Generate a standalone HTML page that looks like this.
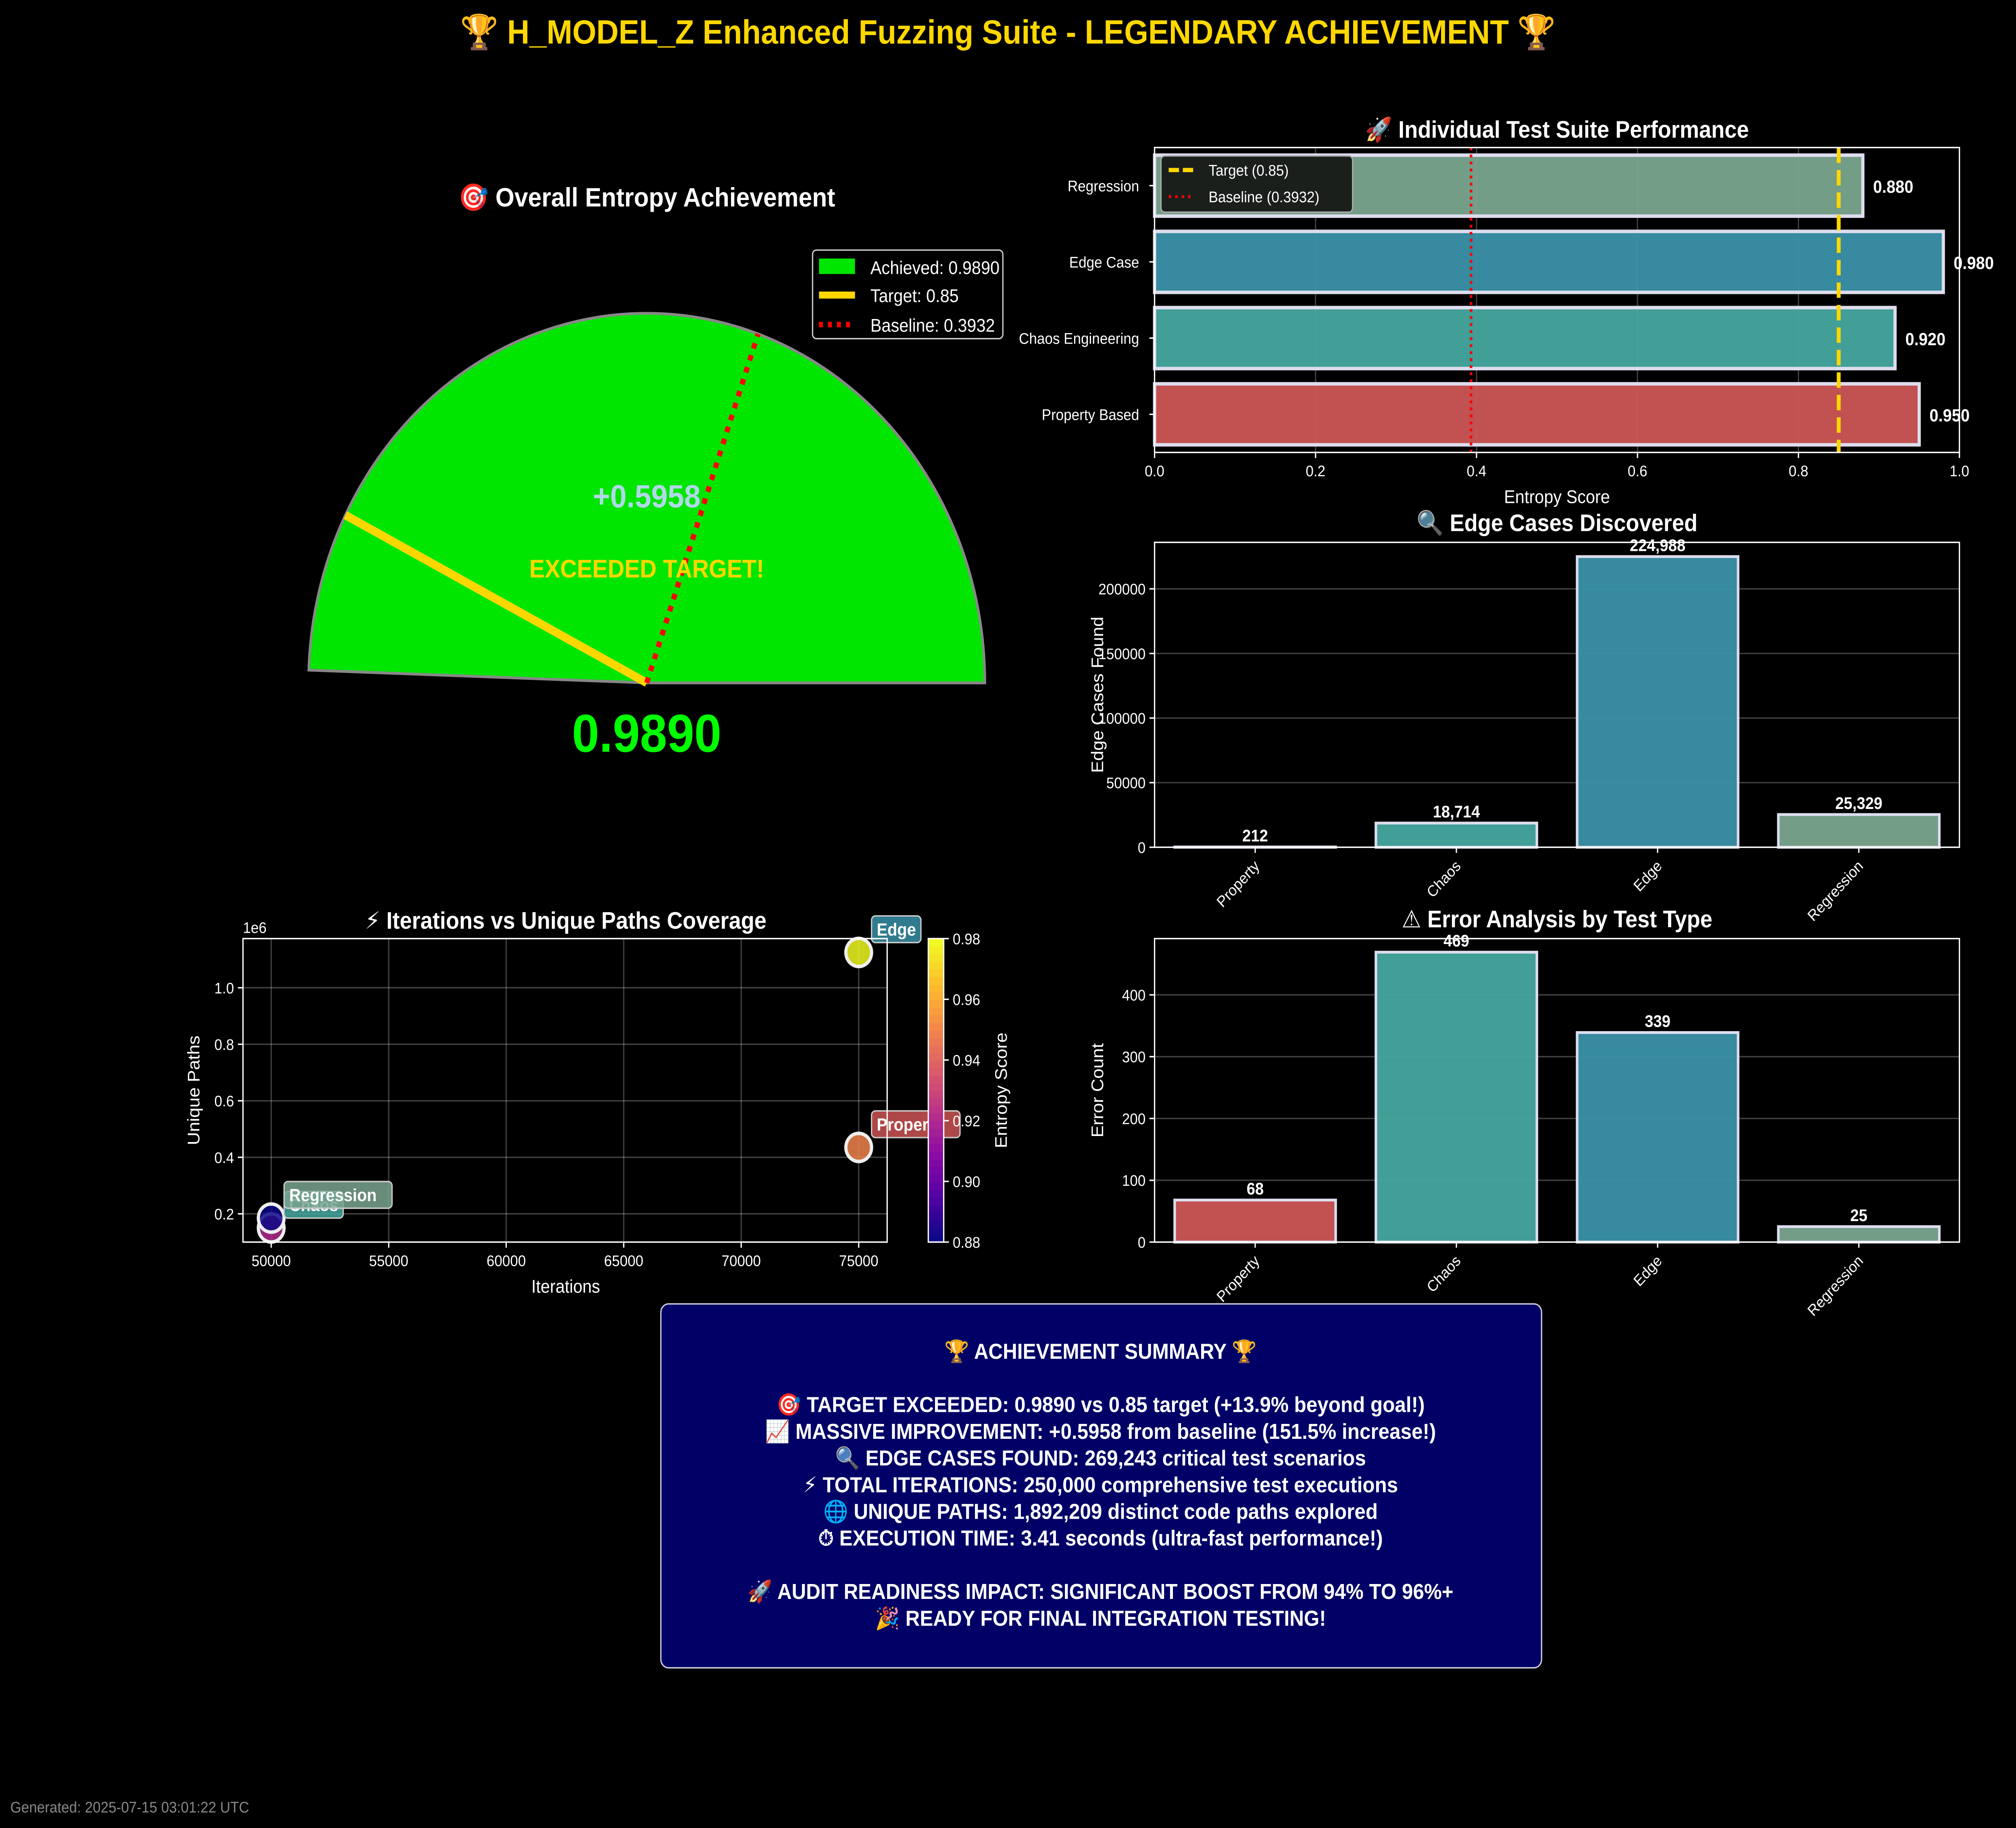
<!DOCTYPE html>
<html><head><meta charset="utf-8"><style>
html,body{margin:0;padding:0;background:#000;overflow:hidden;width:100%;height:100%;}
svg{display:block;position:fixed;left:0;top:0;width:100vw;height:100vh;font-family:"Liberation Sans","DejaVu Sans",sans-serif;}
</style></head><body>
<svg id="root" viewBox="0 0 1568 1301" preserveAspectRatio="none" xmlns="http://www.w3.org/2000/svg">
<rect x="0" y="0" width="1568" height="1301" fill="#000"/>
<text x="784" y="31" text-anchor="middle" font-size="24" font-weight="bold" fill="#ffd700">🏆 H_MODEL_Z Enhanced Fuzzing Suite - LEGENDARY ACHIEVEMENT 🏆</text>
<g id="gauge"></g>
<g id="hbar"></g>
<g id="edge"></g>
<g id="scatter"></g>
<g id="err"></g>
<g>
<rect x="514" y="928" width="685" height="259" rx="6" fill="#000066" stroke="#ccccdd" stroke-width="1"/>
<g font-size="15.5" font-weight="bold" fill="#fff" text-anchor="middle">
<text x="856" y="967">🏆 ACHIEVEMENT SUMMARY 🏆</text>
<text x="856" y="1005">🎯 TARGET EXCEEDED: 0.9890 vs 0.85 target (+13.9% beyond goal!)</text>
<text x="856" y="1024">📈 MASSIVE IMPROVEMENT: +0.5958 from baseline (151.5% increase!)</text>
<text x="856" y="1043">🔍 EDGE CASES FOUND: 269,243 critical test scenarios</text>
<text x="856" y="1062">⚡ TOTAL ITERATIONS: 250,000 comprehensive test executions</text>
<text x="856" y="1081">🌐 UNIQUE PATHS: 1,892,209 distinct code paths explored</text>
<text x="856" y="1100">⏱ EXECUTION TIME: 3.41 seconds (ultra-fast performance!)</text>
<text x="856" y="1138">🚀 AUDIT READINESS IMPACT: SIGNIFICANT BOOST FROM 94% TO 96%+</text>
<text x="856" y="1157">🎉 READY FOR FINAL INTEGRATION TESTING!</text>
</g></g>
<text x="8" y="1290" font-size="11" fill="#888">Generated: 2025-07-15 03:01:22 UTC</text>
</svg>
<script>
const NS="http://www.w3.org/2000/svg";
function mk(p,t,a,txt){const e=document.createElementNS(NS,t);for(const k in a)e.setAttribute(k,a[k]);if(txt!==undefined)e.textContent=txt;p.appendChild(e);return e;}

// Gauge data
const gaugeAchieved=0.9890, gaugeTarget=0.85, gaugeBaseline=0.3932;
// Suite performance
const suiteNames=["Property Based","Chaos Engineering","Edge Case","Regression"];
const suiteScores=[0.95,0.92,0.98,0.88];
const suiteColors=["#cc5555","#45a8a0","#3a91a8","#7aa58f"];
const perfTicks=[0,0.2,0.4,0.6,0.8,1.0];
// Edge cases / errors
const testTypes=["Property","Chaos","Edge","Regression"];
const edgeCases=[212,18714,224988,25329];
const edgeTicks=[0,50000,100000,150000,200000];
const errorCounts=[68,469,339,25];
const errTicks=[0,100,200,300,400];
// Scatter
const scIters=[75000,50000,75000,50000];
const scPaths=[435000,150000,1125000,185000];
const scEntropy=[0.95,0.92,0.98,0.88];
const scLabels=["Property","Chaos","Edge","Regression"];
const scXTicks=[50000,55000,60000,65000,70000,75000];
const scYTicks=[0.2,0.4,0.6,0.8,1.0];
const cbTicks=[0.88,0.90,0.92,0.94,0.96,0.98];

function plasma(t){const st=[[13,8,135],[84,2,163],[139,10,165],[185,50,137],[219,92,104],[244,136,73],[254,188,43],[240,249,33]];
 t=Math.max(0,Math.min(1,t))*(st.length-1);const i=Math.min(st.length-2,Math.floor(t)),f=t-i;
 return "rgb("+st[i].map((v,k)=>Math.round(v+(st[i+1][k]-v)*f)).join(",")+")";}

// ---- Gauge ----
(function(){
 const g=document.getElementById('gauge');const cx=503,cy=486,R=263;
 const ang=v=>Math.PI*v; const pt=(v,r)=>[cx+r*Math.cos(ang(v)),cy-r*Math.sin(ang(v))];
 mk(g,'text',{x:503,y:147,'text-anchor':'middle','font-size':19,'font-weight':'bold',fill:'#fff'},'🎯 Overall Entropy Achievement');
 const [ex,ey]=pt(gaugeAchieved,R);
 const arc=mk(g,'path',{d:`M${cx+R},${cy} A${R},${R} 0 0 0 ${ex},${ey} L${cx},${cy} Z`,fill:'#00e600',stroke:'#888',"stroke-width":2});
 
 const [tx,ty]=pt(gaugeTarget,R);
 const tl=mk(g,'line',{x1:cx,y1:cy,x2:tx,y2:ty,stroke:'#ffd700','stroke-width':6});
 
 const [bx,by]=pt(gaugeBaseline,R*1.0);
 const bl=mk(g,'line',{x1:cx,y1:cy,x2:bx,y2:by,stroke:'#ff0000','stroke-width':4,'stroke-dasharray':'4 5'});
 
 mk(g,'text',{x:503,y:361,'text-anchor':'middle','font-size':23,'font-weight':'bold',fill:'#b0d8e8'},'+'+(gaugeAchieved-gaugeBaseline).toFixed(4));
 mk(g,'text',{x:503,y:411,'text-anchor':'middle','font-size':18,'font-weight':'bold',fill:'#ffd700'},'EXCEEDED TARGET!');
 mk(g,'text',{x:503,y:535,'text-anchor':'middle','font-size':38,'font-weight':'bold',fill:'#00ff00'},gaugeAchieved.toFixed(4));
 const lg=mk(g,'g',{});
 mk(lg,'rect',{x:632,y:178,width:148,height:63,rx:3,fill:'#000','fill-opacity':0.8,stroke:'#ccc'});
 mk(lg,'rect',{x:637,y:184,width:28,height:11,fill:'#00e600'});
 mk(lg,'line',{x1:637,y1:210,x2:665,y2:210,stroke:'#ffd700','stroke-width':5});
 mk(lg,'line',{x1:637,y1:231,x2:665,y2:231,stroke:'#ff0000','stroke-width':4,'stroke-dasharray':'3 4'});
 mk(lg,'text',{x:677,y:195,'font-size':13,fill:'#fff'},'Achieved: '+gaugeAchieved.toFixed(4));
 mk(lg,'text',{x:677,y:215,'font-size':13,fill:'#fff'},'Target: '+gaugeTarget);
 mk(lg,'text',{x:677,y:236,'font-size':13,fill:'#fff'},'Baseline: '+gaugeBaseline);
})();

// ---- Horizontal bars ----
(function(){
 const g=document.getElementById('hbar');const L=898,Rr=1524,T=105,B=322;
 const x=v=>L+(Rr-L)*v; const band=(B-T)/suiteNames.length;
 const y=i=>B-band*(i+0.5);
 mk(g,'text',{x:1211,y:98,'text-anchor':'middle','font-size':17,'font-weight':'bold',fill:'#fff'},'🚀 Individual Test Suite Performance');
 perfTicks.forEach(t=>{mk(g,'line',{x1:x(t),y1:T,x2:x(t),y2:B,stroke:'#fff','stroke-opacity':0.25});
  mk(g,'line',{x1:x(t),y1:B,x2:x(t),y2:B+4,stroke:'#fff'});
  mk(g,'text',{x:x(t),y:B+17,'text-anchor':'middle','font-size':11,fill:'#fff'},t.toFixed(1));});
 suiteNames.forEach((n,i)=>{
  const r=mk(g,'rect',{x:L,y:y(i)-band*0.4,width:x(suiteScores[i])-L,height:band*0.8,fill:suiteColors[i],stroke:'#dde',"stroke-width":2.5,'fill-opacity':0.95});
  
  mk(g,'text',{x:x(suiteScores[i])+8,y:y(i)+5,'font-size':12.5,'font-weight':'bold',fill:'#fff'},suiteScores[i].toFixed(3));
  mk(g,'line',{x1:L-4,y1:y(i),x2:L,y2:y(i),stroke:'#fff'});
  mk(g,'text',{x:L-12,y:y(i)+4,'text-anchor':'end','font-size':11,fill:'#fff'},n);
 });
 mk(g,'line',{x1:x(0.85),y1:T,x2:x(0.85),y2:B,stroke:'#ffd700','stroke-width':3,'stroke-dasharray':'11 5'});
 mk(g,'line',{x1:x(0.3932),y1:T,x2:x(0.3932),y2:B,stroke:'#ff0000','stroke-width':2,'stroke-dasharray':'2 3'});
 mk(g,'rect',{x:L,y:T,width:Rr-L,height:B-T,fill:'none',stroke:'#fff'});
 mk(g,'text',{x:1211,y:358,'text-anchor':'middle','font-size':13,fill:'#fff'},'Entropy Score');
 const lg=mk(g,'g',{});
 mk(lg,'rect',{x:903,y:111,width:149,height:40,rx:3,fill:'#1a1f1c',stroke:'#aaa'});
 mk(lg,'line',{x1:909,y1:121,x2:929,y2:121,stroke:'#ffd700','stroke-width':3,'stroke-dasharray':'8 3'});
 mk(lg,'line',{x1:909,y1:140,x2:929,y2:140,stroke:'#ff0000','stroke-width':2,'stroke-dasharray':'2 3'});
 mk(lg,'text',{x:940,y:125,'font-size':11,fill:'#fff'},'Target (0.85)');
 mk(lg,'text',{x:940,y:144,'font-size':11,fill:'#fff'},'Baseline (0.3932)');
})();

// ---- Vertical bar helper ----
function vbars(id,title,ylabel,vals,ticks,ymax,T,B,fmt,name){
 const g=document.getElementById(id);const L=898,Rr=1524;
 const y=v=>B-(B-T)*v/ymax;const band=(Rr-L)/vals.length;const x=i=>L+band*(i+0.5);
 mk(g,'text',{x:1211,y:T-8,'text-anchor':'middle','font-size':17,'font-weight':'bold',fill:'#fff'},title);
 ticks.forEach(t=>{mk(g,'line',{x1:L,y1:y(t),x2:Rr,y2:y(t),stroke:'#fff','stroke-opacity':0.25});
  mk(g,'line',{x1:L-4,y1:y(t),x2:L,y2:y(t),stroke:'#fff'});
  mk(g,'text',{x:L-7,y:y(t)+4,'text-anchor':'end','font-size':11,fill:'#fff'},String(t));});
 vals.forEach((v,i)=>{
  const r=mk(g,'rect',{x:x(i)-band*0.4,y:y(v),width:band*0.8,height:B-y(v),fill:suiteColors[i],stroke:'#dde','stroke-width':2,'fill-opacity':0.95});
  
  mk(g,'text',{x:x(i),y:y(v)-4,'text-anchor':'middle','font-size':12,'font-weight':'bold',fill:'#fff'},fmt(v));
  mk(g,'line',{x1:x(i),y1:B,x2:x(i),y2:B+4,stroke:'#fff'});
  mk(g,'text',{x:x(i)+4,y:B+14,'text-anchor':'end','font-size':11,fill:'#fff',transform:`rotate(-45 ${x(i)+4} ${B+14})`},testTypes[i]);
 });
 mk(g,'rect',{x:L,y:T,width:Rr-L,height:B-T,fill:'none',stroke:'#fff'});
 mk(g,'text',{x:0,y:0,'text-anchor':'middle','font-size':13,fill:'#fff',transform:`translate(858 ${(T+B)/2}) rotate(-90)`},ylabel);
}
vbars('edge','🔍 Edge Cases Discovered','Edge Cases Found',edgeCases,edgeTicks,236000,386,603,v=>v.toLocaleString('en-US'),'edge-case-bar');
vbars('err','⚠ Error Analysis by Test Type','Error Count',errorCounts,errTicks,491,668,884,v=>String(v),'error-bar');

// ---- Scatter ----
(function(){
 const g=document.getElementById('scatter');const L=189,Rr=690,T=668,B=884;
 const x=v=>L+(v-48800)/(76210-48800)*(Rr-L); const y=v=>B-(v/1e6-0.1)/(1.174-0.1)*(B-T);
 mk(g,'text',{x:440,y:661,'text-anchor':'middle','font-size':17,'font-weight':'bold',fill:'#fff'},'⚡ Iterations vs Unique Paths Coverage');
 scXTicks.forEach(t=>{mk(g,'line',{x1:x(t),y1:T,x2:x(t),y2:B,stroke:'#fff','stroke-opacity':0.25});
  mk(g,'line',{x1:x(t),y1:B,x2:x(t),y2:B+4,stroke:'#fff'});
  mk(g,'text',{x:x(t),y:B+17,'text-anchor':'middle','font-size':11,fill:'#fff'},String(t));});
 scYTicks.forEach(t=>{mk(g,'line',{x1:L,y1:y(t*1e6),x2:Rr,y2:y(t*1e6),stroke:'#fff','stroke-opacity':0.25});
  mk(g,'line',{x1:L-4,y1:y(t*1e6),x2:L,y2:y(t*1e6),stroke:'#fff'});
  mk(g,'text',{x:L-7,y:y(t*1e6)+4,'text-anchor':'end','font-size':11,fill:'#fff'},t.toFixed(1));});
 mk(g,'text',{x:L,y:T-4,'font-size':11,fill:'#fff'},'1e6');
 const ccol=v=>plasma((v-0.88)/0.10);
 scIters.forEach((it,i)=>{
  const c=mk(g,'circle',{cx:x(it),cy:y(scPaths[i]),r:10,fill:ccol(scEntropy[i]),stroke:'#eee','stroke-width':2.5,'fill-opacity':0.85});
  
 });
 scIters.forEach((it,i)=>{
  const px=x(it)+10,py=y(scPaths[i])-10;const w=scLabels[i].length*7.6+8;
  const lb=mk(g,'g',{});
  mk(lb,'rect',{x:px,y:py-16,width:w,height:19,rx:3,fill:suiteColors[i],'fill-opacity':0.85,stroke:'#ccc'});
  mk(lb,'text',{x:px+4,y:py-2,'font-size':12.5,'font-weight':'bold',fill:'#fff'},scLabels[i]);
 });
 mk(g,'rect',{x:L,y:T,width:Rr-L,height:B-T,fill:'none',stroke:'#fff'});
 mk(g,'text',{x:440,y:920,'text-anchor':'middle','font-size':13,fill:'#fff'},'Iterations');
 mk(g,'text',{x:0,y:0,'text-anchor':'middle','font-size':13,fill:'#fff',transform:`translate(155 ${(T+B)/2}) rotate(-90)`},'Unique Paths');
 const cb=mk(g,'g',{});
 const n=40;for(let k=0;k<n;k++){mk(cb,'rect',{x:722,y:B-(k+1)*(B-T)/n,width:12,height:(B-T)/n+0.6,fill:plasma(k/(n-1))});}
 mk(cb,'rect',{x:722,y:T,width:12,height:B-T,fill:'none',stroke:'#fff'});
 cbTicks.forEach(t=>{const yy=B-(t-0.88)/0.10*(B-T);mk(cb,'line',{x1:734,y1:yy,x2:738,y2:yy,stroke:'#fff'});
  mk(cb,'text',{x:741,y:yy+4,'font-size':11,fill:'#fff'},t.toFixed(2));});
 mk(cb,'text',{x:0,y:0,'text-anchor':'middle','font-size':13,fill:'#fff',transform:`translate(783 ${(T+B)/2}) rotate(-90)`},'Entropy Score');
})();
</script>
</body></html>
